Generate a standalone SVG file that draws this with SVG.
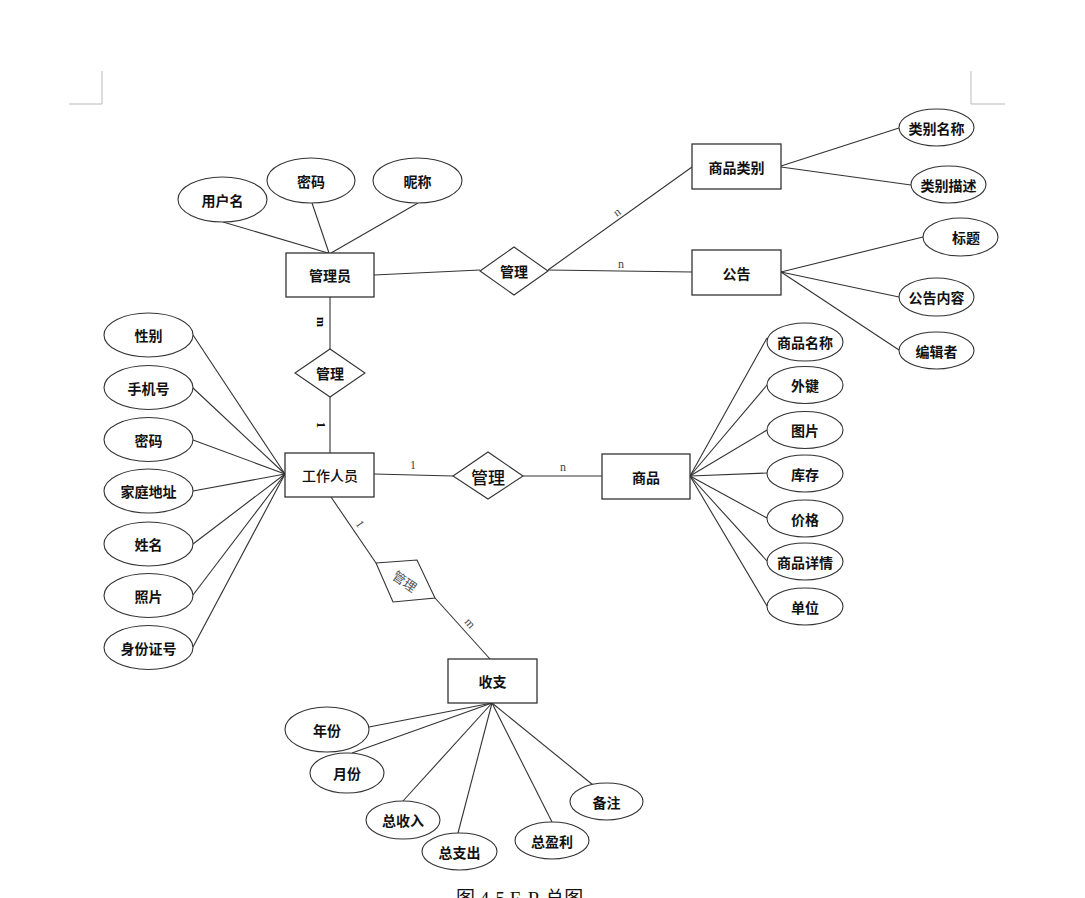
<svg xmlns="http://www.w3.org/2000/svg" width="1085" height="898" viewBox="0 0 1085 898">
<style>
.e{fill:#fff;stroke:#333;stroke-width:1.1}
.r{fill:#fff;stroke:#333;stroke-width:1.3}
.d{fill:#fff;stroke:#333;stroke-width:1.1}
.l{stroke:#333;stroke-width:1.1;fill:none}
.c{stroke:#bbb;stroke-width:1;fill:none}
.t{font-family:"Noto Sans CJK SC","Noto Sans",sans-serif;font-size:14px;font-weight:bold;fill:#111;text-anchor:middle;dominant-baseline:central}
.tn{font-family:"Noto Sans CJK SC","Noto Sans",sans-serif;font-size:14px;font-weight:500;fill:#111;text-anchor:middle;dominant-baseline:central}
.k{font-family:"Liberation Serif",serif;font-size:12px;fill:#444;text-anchor:middle;dominant-baseline:central}
.cap{font-family:"Liberation Serif","Noto Sans CJK SC",serif;font-size:19px;fill:#111}
</style>
<rect width="1085" height="898" fill="#fff"/>
<g id="corners">
<path class="c" d="M102 71V104H69"/>
<path class="c" d="M971 71V104H1005"/>
</g>
<g id="connectors">
<line class="l" x1="223" y1="222" x2="328" y2="253"/>
<line class="l" x1="312" y1="203" x2="329" y2="253"/>
<line class="l" x1="418" y1="203" x2="331" y2="253"/>
<line class="l" x1="374" y1="275" x2="480" y2="270"/>
<line class="l" x1="548" y1="270" x2="692" y2="167"/>
<line class="l" x1="548" y1="270" x2="692" y2="272"/>
<line class="l" x1="781" y1="166" x2="899" y2="128"/>
<line class="l" x1="781" y1="167" x2="911" y2="185"/>
<line class="l" x1="781" y1="272" x2="923" y2="237"/>
<line class="l" x1="781" y1="272" x2="899" y2="297"/>
<line class="l" x1="781" y1="272" x2="899" y2="350"/>
<line class="l" x1="330" y1="297" x2="330" y2="349"/>
<line class="l" x1="330" y1="397" x2="330" y2="453"/>
<line class="l" x1="193" y1="335" x2="285" y2="474"/>
<line class="l" x1="193" y1="388" x2="285" y2="474"/>
<line class="l" x1="193" y1="440" x2="285" y2="474"/>
<line class="l" x1="193" y1="491" x2="285" y2="474"/>
<line class="l" x1="193" y1="544" x2="285" y2="474"/>
<line class="l" x1="193" y1="595" x2="285" y2="474"/>
<line class="l" x1="193" y1="647" x2="285" y2="474"/>
<line class="l" x1="374" y1="474" x2="453" y2="476"/>
<line class="l" x1="523" y1="476" x2="602" y2="476"/>
<line class="l" x1="690" y1="476" x2="767" y2="338"/>
<line class="l" x1="690" y1="476" x2="767" y2="385"/>
<line class="l" x1="690" y1="476" x2="767" y2="430"/>
<line class="l" x1="690" y1="476" x2="767" y2="473"/>
<line class="l" x1="690" y1="476" x2="767" y2="518"/>
<line class="l" x1="690" y1="476" x2="767" y2="561"/>
<line class="l" x1="690" y1="476" x2="767" y2="606"/>
<line class="l" x1="331" y1="497" x2="376" y2="563"/>
<line class="l" x1="435" y1="598" x2="490" y2="659"/>
<line class="l" x1="369" y1="727" x2="492" y2="703"/>
<line class="l" x1="352" y1="753" x2="492" y2="703"/>
<line class="l" x1="403" y1="801" x2="492" y2="703"/>
<line class="l" x1="458" y1="833" x2="492" y2="703"/>
<line class="l" x1="552" y1="822" x2="492" y2="703"/>
<line class="l" x1="593" y1="785" x2="492" y2="703"/>
<text class="k" transform="translate(617,212) rotate(-35)">n</text>
<text class="k" x="621" y="264">n</text>
<text class="k" transform="translate(321,322) rotate(90)" style="font-weight:bold;fill:#000">m</text>
<text class="k" transform="translate(321,425) rotate(90)" style="font-weight:bold;fill:#000">1</text>
<text class="k" x="413" y="465">1</text>
<text class="k" x="563" y="467">n</text>
<text class="k" transform="translate(360,524) rotate(55)">1</text>
<text class="k" transform="translate(470,623) rotate(48)">m</text>
</g>
<g id="admin"><rect class="r" x="286" y="253" width="88" height="44"/><text class="t" x="330" y="275">管理员</text></g>
<g id="a-username"><ellipse class="e" cx="222.5" cy="199.5" rx="44.5" ry="22.5"/><text class="t" x="222.5" y="199.5">用户名</text></g>
<g id="a-pwd1"><ellipse class="e" cx="311" cy="180.5" rx="44" ry="22.5"/><text class="t" x="311" y="180.5">密码</text></g>
<g id="a-nick"><ellipse class="e" cx="417.5" cy="180.5" rx="44.5" ry="22.5"/><text class="t" x="417.5" y="180.5">昵称</text></g>
<g id="rel-top"><polygon class="d" points="480,271 514,247 548,271 514,295"/><text class="t" x="514" y="271">管理</text></g>
<g id="category"><rect class="r" x="692" y="144" width="89" height="45"/><text class="t" x="736.5" y="166.5">商品类别</text></g>
<g id="notice"><rect class="r" x="692" y="250" width="89" height="45"/><text class="t" x="736.5" y="272.5">公告</text></g>
<g id="a-catname"><ellipse class="e" cx="936.5" cy="127.5" rx="37.5" ry="18.5"/><text class="t" x="936.5" y="127.5">类别名称</text></g>
<g id="a-catdesc"><ellipse class="e" cx="948.5" cy="184.5" rx="37.5" ry="18.5"/><text class="t" x="948.5" y="184.5">类别描述</text></g>
<g id="a-title"><ellipse class="e" cx="960.5" cy="237" rx="37.5" ry="19"/><text class="t" x="966" y="237">标题</text></g>
<g id="a-content"><ellipse class="e" cx="936.5" cy="297" rx="37.5" ry="19"/><text class="t" x="936.5" y="297">公告内容</text></g>
<g id="a-editor"><ellipse class="e" cx="936.5" cy="350.5" rx="37.5" ry="18.5"/><text class="t" x="936.5" y="350.5">编辑者</text></g>
<g id="rel-left"><polygon class="d" points="295,373 330,349 365,373 330,397"/><text class="t" x="330" y="373">管理</text></g>
<g id="staff"><rect class="r" x="285" y="453" width="89" height="44"/><text class="tn" x="330" y="475">工作人员</text></g>
<g id="a-sex"><ellipse class="e" cx="148.5" cy="335" rx="44.5" ry="22"/><text class="t" x="148.5" y="335">性别</text></g>
<g id="a-phone"><ellipse class="e" cx="148.5" cy="387.5" rx="44.5" ry="22"/><text class="t" x="148.5" y="387.5">手机号</text></g>
<g id="a-pwd2"><ellipse class="e" cx="148.5" cy="439.5" rx="44.5" ry="22"/><text class="t" x="148.5" y="439.5">密码</text></g>
<g id="a-addr"><ellipse class="e" cx="148.5" cy="491" rx="44.5" ry="22"/><text class="t" x="148.5" y="491">家庭地址</text></g>
<g id="a-name"><ellipse class="e" cx="148.5" cy="544" rx="44.5" ry="22"/><text class="t" x="148.5" y="544">姓名</text></g>
<g id="a-photo"><ellipse class="e" cx="148.5" cy="595.5" rx="44.5" ry="22"/><text class="t" x="148.5" y="595.5">照片</text></g>
<g id="a-idno"><ellipse class="e" cx="148.5" cy="647.5" rx="44.5" ry="22"/><text class="t" x="148.5" y="647.5">身份证号</text></g>
<g id="rel-mid"><polygon class="d" points="453,476 488,452 523,476 488,499"/><text class="tn" x="488" y="476" style="font-size:17px">管理</text></g>
<g id="goods"><rect class="r" x="602" y="454" width="88" height="45"/><text class="t" x="646" y="476.5">商品</text></g>
<g id="a-gname"><ellipse class="e" cx="805" cy="342" rx="38" ry="19"/><text class="t" x="805" y="342">商品名称</text></g>
<g id="a-fk"><ellipse class="e" cx="805" cy="385" rx="38" ry="18.5"/><text class="t" x="805" y="385">外键</text></g>
<g id="a-pic"><ellipse class="e" cx="805" cy="430" rx="38" ry="18.5"/><text class="t" x="805" y="430">图片</text></g>
<g id="a-stock"><ellipse class="e" cx="805" cy="473.5" rx="38" ry="18.5"/><text class="t" x="805" y="473.5">库存</text></g>
<g id="a-price"><ellipse class="e" cx="805" cy="518.5" rx="38" ry="18.5"/><text class="t" x="805" y="518.5">价格</text></g>
<g id="a-detail"><ellipse class="e" cx="805" cy="561.5" rx="38" ry="18.5"/><text class="t" x="805" y="561.5">商品详情</text></g>
<g id="a-unit"><ellipse class="e" cx="805" cy="606.5" rx="38" ry="18.5"/><text class="t" x="805" y="606.5">单位</text></g>
<g id="rel-diag"><polygon class="d" points="376,563 417,560 435,598 393,602"/><text class="tn" transform="translate(405,581) rotate(35)" style="font-size:13px;font-weight:normal;fill:#555">管理</text></g>
<g id="finance"><rect class="r" x="448" y="659" width="89" height="44"/><text class="t" x="492.5" y="681">收支</text></g>
<g id="a-year"><ellipse class="e" cx="327" cy="729.5" rx="42" ry="22.5"/><text class="t" x="327" y="729.5">年份</text></g>
<g id="a-month"><ellipse class="e" cx="347" cy="773" rx="37" ry="20"/><text class="t" x="347" y="773">月份</text></g>
<g id="a-income"><ellipse class="e" cx="403" cy="820" rx="37" ry="19"/><text class="t" x="403" y="820">总收入</text></g>
<g id="a-expense"><ellipse class="e" cx="459.5" cy="851.5" rx="37.5" ry="18.5"/><text class="t" x="459.5" y="851.5">总支出</text></g>
<g id="a-profit"><ellipse class="e" cx="552" cy="840.5" rx="37" ry="18.5"/><text class="t" x="552" y="840.5">总盈利</text></g>
<g id="a-remark"><ellipse class="e" cx="606.5" cy="801.5" rx="36.5" ry="18.5"/><text class="t" x="606.5" y="801.5">备注</text></g>
<text class="cap" x="456" y="905">图 4-5 E-R 总图</text>
</svg>
